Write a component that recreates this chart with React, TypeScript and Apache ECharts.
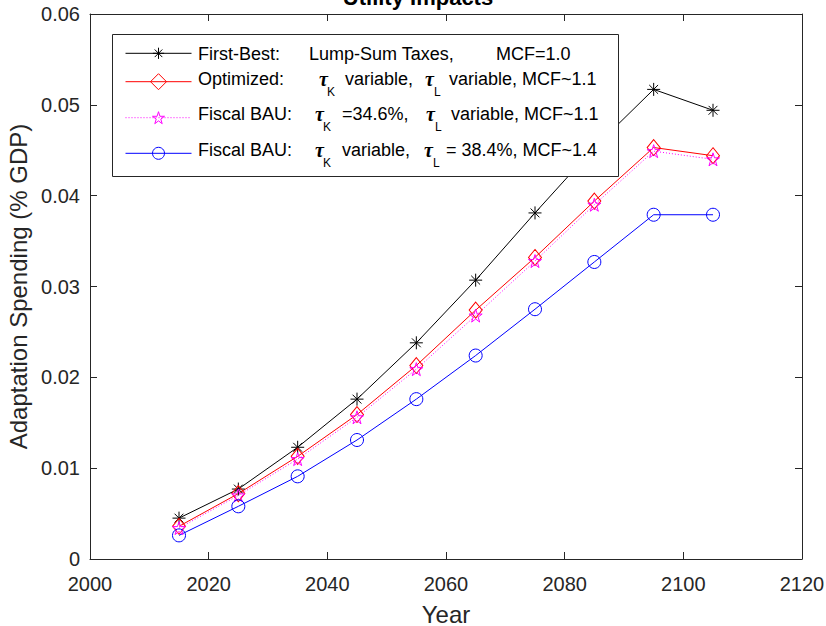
import React, { useEffect, useRef } from 'react';
import * as echarts from 'echarts';

// ---- data ----
const years = [2015, 2025, 2035, 2045, 2055, 2065, 2075, 2085, 2095, 2105];
const firstBest = [0.0045, 0.0077, 0.0123, 0.0176, 0.0238, 0.0307, 0.0381, 0.0453, 0.0517, 0.0494];
const optimized = [0.0036, 0.0072, 0.0113, 0.0159, 0.0213, 0.0274, 0.0332, 0.0394, 0.0453, 0.0444];
const fiscalBauK = [0.0034, 0.0070, 0.0110, 0.0156, 0.0209, 0.0268, 0.0328, 0.0390, 0.0449, 0.0440];
const fiscalBauL = [0.0026, 0.0058, 0.0091, 0.0131, 0.0176, 0.0224, 0.0275, 0.0327, 0.0379, 0.0379];

const xMin = 2000, xMax = 2120, xStep = 20;
const yMin = 0, yMax = 0.06, yStep = 0.01;

const titleText = 'Utility Impacts';
const xName = 'Year';
const yName = 'Adaptation Spending (% GDP)';

const seriesNames = ['First-Best', 'Optimized', 'Fiscal BAU (tauK)', 'Fiscal BAU (tauL)'];

// ---- styles ----
const FONT = '"Liberation Sans", Arial, Helvetica, sans-serif';
const TAU_FONT = '"Liberation Serif", "DejaVu Serif", serif';
const AXIS_COLOR = '#262626';

const asteriskPath = 'path://M0,5L10,5M5,0L5,10M1.6,1.6L8.4,8.4M1.6,8.4L8.4,1.6';
const pentagramPath =
  'path://M5,0L6.123,3.455L9.755,3.455L6.817,5.59L7.939,9.045L5,6.91L2.061,9.045L3.183,5.59L0.245,3.455L3.877,3.455Z';

const seriesStyles = [
  { color: '#000000', symbol: asteriskPath, size: 13, line: 'solid' as any, legendH: 14 },
  { color: '#FF0000', symbol: 'diamond', size: [13, 16], line: 'solid' as any, legendH: 20 },
  { color: '#FF00FF', symbol: pentagramPath, size: 13, line: [1, 2] as any, legendH: 15 },
  { color: '#0000FF', symbol: 'circle', size: 13, line: 'solid' as any, legendH: 15 },
];

// legend layout
const legendBox = { x: 112.5, y: 34.5, w: 506, h: 142 };
const legendIconX = 125;
const legendIconW = 66;
const legendIconY = [53.3, 81.7, 117.7, 153.3];

type Piece = { x: number; t: string };
type Tau = { x: number; sub: string; sx: number };
const legendRows: { base: number; parts: Piece[]; taus: Tau[] }[] = [
  {
    base: 60,
    parts: [
      { x: 198, t: 'First-Best:' },
      { x: 309, t: 'Lump-Sum Taxes,' },
      { x: 496, t: 'MCF=1.0' },
    ],
    taus: [],
  },
  {
    base: 85,
    parts: [
      { x: 198, t: 'Optimized:' },
      { x: 345, t: 'variable,' },
      { x: 449, t: 'variable, MCF~1.1' },
    ],
    taus: [
      { x: 319, sub: 'K', sx: 327 },
      { x: 425, sub: 'L', sx: 434 },
    ],
  },
  {
    base: 120,
    parts: [
      { x: 198, t: 'Fiscal BAU:' },
      { x: 342, t: '=34.6%,' },
      { x: 451, t: 'variable, MCF~1.1' },
    ],
    taus: [
      { x: 315, sub: 'K', sx: 323 },
      { x: 426, sub: 'L', sx: 435 },
    ],
  },
  {
    base: 156.5,
    parts: [
      { x: 198, t: 'Fiscal BAU:' },
      { x: 342, t: 'variable,' },
      { x: 446, t: '= 38.4%, MCF~1.4' },
    ],
    taus: [
      { x: 315, sub: 'K', sx: 323 },
      { x: 424, sub: 'L', sx: 433 },
    ],
  },
];

function buildGraphic() {
  const els: any[] = [];
  els.push({
    type: 'text',
    x: 418,
    y: -3,
    z: 10,
    style: {
      text: titleText,
      fontFamily: FONT,
      fontSize: 22,
      fontWeight: 'bold',
      fill: '#000',
      align: 'center',
      verticalAlign: 'middle',
    },
  });
  els.push({
    type: 'rect',
    z: 3,
    shape: { x: legendBox.x, y: legendBox.y, width: legendBox.w, height: legendBox.h },
    style: { fill: '#ffffff', stroke: AXIS_COLOR, lineWidth: 1 },
  });
  legendRows.forEach((row) => {
    const mid = row.base - 6.3;
    row.parts.forEach((p) => {
      els.push({
        type: 'text',
        x: p.x,
        y: mid,
        z: 10,
        style: {
          text: p.t,
          fontFamily: FONT,
          fontSize: 18,
          fill: '#000',
          align: 'left',
          verticalAlign: 'middle',
        },
      });
    });
    row.taus.forEach((tu) => {
      els.push({
        type: 'text',
        x: tu.x,
        y: mid,
        z: 10,
        style: {
          text: 'τ',
          fontFamily: TAU_FONT,
          fontSize: 20,
          fontWeight: 'bold',
          fontStyle: 'italic',
          fill: '#000',
          align: 'left',
          verticalAlign: 'middle',
        },
      });
      els.push({
        type: 'text',
        x: tu.sx,
        y: row.base + 11 - 4.2,
        z: 10,
        style: {
          text: tu.sub,
          fontFamily: FONT,
          fontSize: 12,
          fill: '#000',
          align: 'left',
          verticalAlign: 'middle',
        },
      });
    });
  });
  return els;
}

const dataSets = [firstBest, optimized, fiscalBauK, fiscalBauL];

export default function App() {
  const ref = useRef<HTMLDivElement>(null);
  useEffect(() => {
    if (!ref.current) return;
    const chart = echarts.init(ref.current, null, { renderer: 'svg' });

    const axisLine = { show: true, onZero: false, lineStyle: { color: AXIS_COLOR, width: 1 } };
    const axisTick = { show: true, inside: true, length: 7, lineStyle: { color: AXIS_COLOR, width: 1 } };

    const option: any = {
      animation: false,
      backgroundColor: '#ffffff',
      grid: {
        left: 90,
        top: 14,
        width: 712,
        height: 545,
        containLabel: false,
        outerBoundsMode: 'none',
      },
      xAxis: [
        {
          type: 'value',
          min: xMin,
          max: xMax,
          interval: xStep,
          position: 'bottom',
          axisLine,
          axisTick,
          splitLine: { show: false },
          axisLabel: {
            margin: 15,
            color: AXIS_COLOR,
            fontSize: 20,
            fontFamily: FONT,
            formatter: (v: number) => String(v),
          },
          name: xName,
          nameLocation: 'middle',
          nameGap: 43,
          nameTextStyle: { fontSize: 24, color: AXIS_COLOR, fontFamily: FONT },
        },
        {
          type: 'value',
          min: xMin,
          max: xMax,
          interval: xStep,
          position: 'top',
          axisLine,
          axisTick,
          splitLine: { show: false },
          axisLabel: { show: false },
        },
      ],
      yAxis: [
        {
          type: 'value',
          min: yMin,
          max: yMax,
          interval: yStep,
          position: 'left',
          axisLine,
          axisTick,
          splitLine: { show: false },
          axisLabel: { margin: 10, color: AXIS_COLOR, fontSize: 20, fontFamily: FONT },
          name: yName,
          nameLocation: 'middle',
          nameGap: 57,
          nameTextStyle: { fontSize: 24, color: AXIS_COLOR, fontFamily: FONT },
        },
        {
          type: 'value',
          min: yMin,
          max: yMax,
          interval: yStep,
          position: 'right',
          axisLine,
          axisTick,
          splitLine: { show: false },
          axisLabel: { show: false },
        },
      ],
      legend: seriesNames.map((name, i) => ({
        data: [name],
        orient: 'vertical',
        left: legendIconX,
        top: legendIconY[i] - seriesStyles[i].legendH / 2,
        padding: 0,
        itemWidth: legendIconW,
        itemHeight: seriesStyles[i].legendH,
        selectedMode: false,
        formatter: () => '',
        textStyle: { fontSize: 8 },
        itemStyle: { color: 'transparent', borderColor: seriesStyles[i].color, borderWidth: 1 },
        lineStyle: { color: seriesStyles[i].color, width: 1, type: seriesStyles[i].line },
        z: 4,
      })),
      graphic: buildGraphic(),
      series: seriesNames.map((name, i) => ({
        name,
        type: 'line',
        xAxisIndex: 0,
        yAxisIndex: 0,
        data: years.map((y, j) => [y, dataSets[i][j]]),
        symbol: seriesStyles[i].symbol,
        symbolSize: seriesStyles[i].size,
        showSymbol: true,
        lineStyle: { color: seriesStyles[i].color, width: 1, type: seriesStyles[i].line },
        itemStyle: { color: 'transparent', borderColor: seriesStyles[i].color, borderWidth: 1 },
        emphasis: { disabled: true },
        z: 2,
      })),
    };
    chart.setOption(option);
    return () => chart.dispose();
  }, []);
  return (
    <div
      ref={ref}
      style={{ position: 'fixed', left: 0, top: 0, width: 826, height: 626, background: '#fff' }}
    />
  );
}
